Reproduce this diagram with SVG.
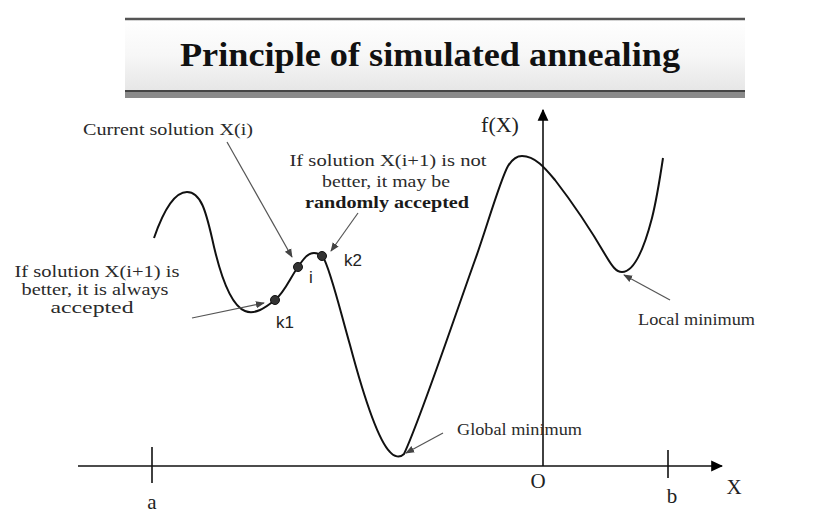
<svg xmlns="http://www.w3.org/2000/svg" width="838" height="518" viewBox="0 0 838 518">
<defs>
<linearGradient id="boxg" x1="0" y1="0" x2="0" y2="1">
<stop offset="0" stop-color="#ffffff"/>
<stop offset="0.5" stop-color="#f7f7f7"/>
<stop offset="1" stop-color="#e6e6e6"/>
</linearGradient>
<marker id="lead" viewBox="0 0 10 10" refX="9" refY="5" markerWidth="9" markerHeight="9" markerUnits="userSpaceOnUse" orient="auto">
<path d="M0,1 L10,5 L0,9 z" fill="#444"/>
</marker>
<marker id="axis" viewBox="0 0 10 10" refX="9" refY="5" markerWidth="12" markerHeight="12" markerUnits="userSpaceOnUse" orient="auto">
<path d="M0,0.5 L10,5 L0,9.5 z" fill="#000"/>
</marker>
</defs>
<style>
.lbl{font-family:"Liberation Serif","Times New Roman",serif;font-size:17px;fill:#2a2a2a;}
.bold{font-weight:bold;fill:#1a1a1a;}
.sans{font-family:"Liberation Sans",Arial,sans-serif;font-size:17px;fill:#222;}
.ax{font-family:"Liberation Serif","Times New Roman",serif;font-size:21px;fill:#222;}
.lead{stroke:#555;stroke-width:1.2;fill:none;marker-end:url(#lead);}
.axisline{stroke:#111;stroke-width:1.6;fill:none;}
.dot{fill:#333;stroke:#111;stroke-width:1;}
</style>
<rect width="838" height="518" fill="#fff"/>

<g id="title">
<rect x="125" y="91" width="620" height="7" fill="#8a8a8a"/>
<rect x="125" y="19" width="620" height="72" fill="url(#boxg)"/>
<line x1="125" y1="19" x2="745" y2="19" stroke="#555" stroke-width="2.5"/>
<line x1="125" y1="91" x2="745" y2="91" stroke="#444" stroke-width="2"/>
<text x="430" y="66" text-anchor="middle" textLength="500" lengthAdjust="spacingAndGlyphs" style="font-family:'Liberation Serif','Times New Roman',serif;font-size:34px;font-weight:bold;fill:#111;">Principle of simulated annealing</text>
</g>

<g id="axes">
<line class="axisline" x1="78" y1="466" x2="722" y2="466" marker-end="url(#axis)"/>
<line class="axisline" x1="543" y1="466" x2="543" y2="110" marker-end="url(#axis)"/>
<line class="axisline" x1="152" y1="447" x2="152" y2="483"/>
<line class="axisline" x1="668" y1="450" x2="668" y2="478"/>
<text class="ax" x="152" y="509" text-anchor="middle">a</text>
<text class="ax" x="672" y="503" text-anchor="middle">b</text>
<text class="ax" x="538" y="488" text-anchor="middle">O</text>
<text class="ax" x="734" y="494" text-anchor="middle">X</text>
<text class="ax" x="500" y="132" text-anchor="middle" style="font-size:22px">f(X)</text>
</g>

<g id="curve">
<path d="M154,238 C163,212 174,192 187,192 C201,192 206,212 212,238 C220,275 230,305 245,311 C255,315 265,308 275,300 C285,292 290,278 298,267 C304,258 308,253 314,253 C318,253 320,254 323,257 C330,268 340,310 350,345 C362,390 378,440 390,452 C394,457 400,458 404,454 C420,420 450,330 475,260 C485,233 500,180 508,166 C513,158 517,156 522,156 C535,156 545,168 555,180 C572,202 592,232 606,256 C612,266 616,272 622,272 C635,272 645,245 652,218 C657,198 660,178 663,158" fill="none" stroke="#111" stroke-width="2"/>
</g>

<g id="k1">
<circle class="dot" cx="275" cy="300" r="4.5"/>
<text class="sans" x="285" y="328" text-anchor="middle">k1</text>
</g>
<g id="i">
<circle class="dot" cx="298" cy="267" r="4.5"/>
<text class="sans" x="311" y="283" text-anchor="middle">i</text>
</g>
<g id="k2">
<circle class="dot" cx="322" cy="256" r="4.5"/>
<text class="sans" x="353" y="266" text-anchor="middle">k2</text>
</g>

<g id="label-current">
<text class="lbl" x="168" y="135" text-anchor="middle" textLength="170" lengthAdjust="spacingAndGlyphs">Current solution X(i)</text>
</g>
<g id="label-better">
<text class="lbl" x="97" y="277" text-anchor="middle" textLength="165" lengthAdjust="spacingAndGlyphs">If solution X(i+1) is</text>
<text class="lbl" x="95" y="295" text-anchor="middle" textLength="147" lengthAdjust="spacingAndGlyphs">better, it is always</text>
<text class="lbl" x="92" y="313" text-anchor="middle" textLength="83" lengthAdjust="spacingAndGlyphs">accepted</text>
</g>
<g id="label-notbetter">
<text class="lbl" x="388" y="166" text-anchor="middle" textLength="197" lengthAdjust="spacingAndGlyphs">If solution X(i+1) is not</text>
<text class="lbl" x="386" y="187" text-anchor="middle" textLength="128" lengthAdjust="spacingAndGlyphs">better, it may be</text>
<text class="lbl bold" x="387" y="208" text-anchor="middle" textLength="164" lengthAdjust="spacingAndGlyphs">randomly accepted</text>
</g>
<g id="label-global">
<text class="lbl" x="457" y="435" textLength="125" lengthAdjust="spacingAndGlyphs" style="font-size:16px">Global minimum</text>
</g>
<g id="label-local">
<text class="lbl" x="638" y="325" textLength="117" lengthAdjust="spacingAndGlyphs" style="font-size:16px">Local minimum</text>
</g>

<g id="connectors">
<line class="lead" x1="227" y1="142" x2="292" y2="257"/>
<line class="lead" x1="358" y1="213" x2="331" y2="251"/>
<line class="lead" x1="192" y1="318" x2="264" y2="303"/>
<line class="lead" x1="443" y1="433" x2="406" y2="453"/>
<line class="lead" x1="670" y1="300" x2="624" y2="275"/>
</g>
</svg>
